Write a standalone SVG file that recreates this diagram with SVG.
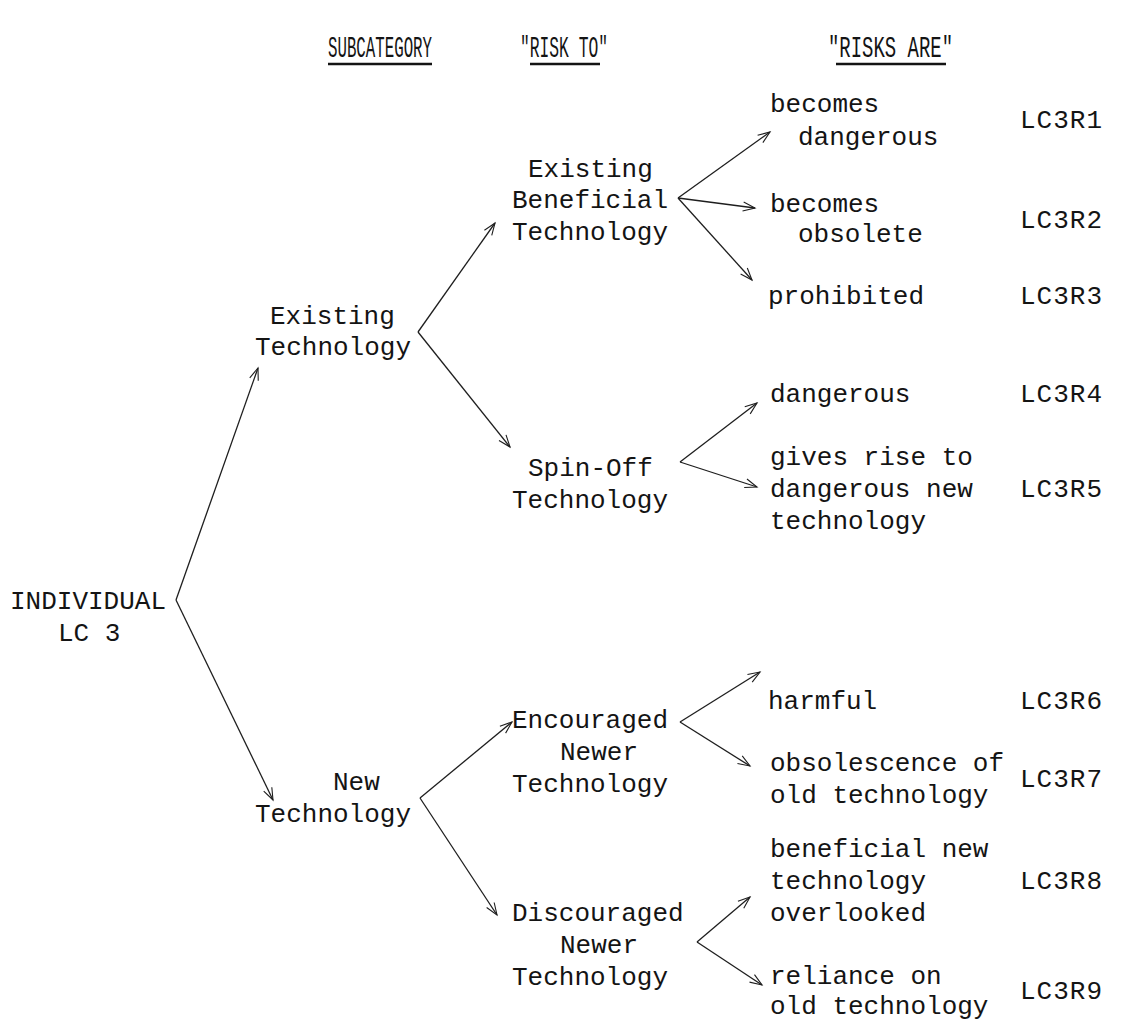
<svg xmlns="http://www.w3.org/2000/svg" width="1131" height="1027" viewBox="0 0 1131 1027">
  <style>
    .t { font-family: "Liberation Mono", "DejaVu Sans Mono", monospace; font-size: 26px; fill: #141414; }
    .h { font-family: "Liberation Mono", "DejaVu Sans Mono", monospace; font-size: 30px; fill: #141414; }
    .code { letter-spacing: 1px; }
    .ul { stroke: #141414; stroke-width: 2.5; }
    .c line { stroke: #1e1e1e; stroke-width: 1.3; fill: none; marker-end: url(#head); }
  </style>
  <defs>
    <marker id="head" markerUnits="userSpaceOnUse" markerWidth="16" markerHeight="12" viewBox="0 -6 14 12" refX="13" refY="0" orient="auto">
      <path d="M1,-4.5 L13,0 L1,4.5" fill="none" stroke="#1e1e1e" stroke-width="1.1"/>
    </marker>
  </defs>
  <rect width="1131" height="1027" fill="#ffffff"/>

  <!-- column headings -->
  <g id="headings">
    <text class="h" x="328" y="57" textLength="104" lengthAdjust="spacingAndGlyphs">SUBCATEGORY</text>
    <line class="ul" x1="328" y1="64" x2="432" y2="64"/>
    <text class="h" x="520" y="57" textLength="88" lengthAdjust="spacingAndGlyphs">"RISK TO"</text>
    <line class="ul" x1="530" y1="64" x2="600" y2="64"/>
    <text class="h" x="828" y="57" textLength="125" lengthAdjust="spacingAndGlyphs">"RISKS ARE"</text>
    <line class="ul" x1="836" y1="64" x2="946" y2="64"/>
  </g>

  <!-- connectors -->
  <g id="connectors" class="c">
    <line x1="176" y1="600" x2="258" y2="368"/>
    <line x1="176" y1="600" x2="273" y2="800"/>
    <line x1="418" y1="332" x2="495" y2="223"/>
    <line x1="418" y1="332" x2="510" y2="447"/>
    <line x1="678" y1="198" x2="770" y2="132"/>
    <line x1="678" y1="198" x2="755" y2="208"/>
    <line x1="678" y1="198" x2="752" y2="280"/>
    <line x1="680" y1="462" x2="757" y2="403"/>
    <line x1="680" y1="462" x2="757" y2="487"/>
    <line x1="420" y1="798" x2="512" y2="722"/>
    <line x1="420" y1="798" x2="497" y2="915"/>
    <line x1="680" y1="722" x2="760" y2="672"/>
    <line x1="680" y1="722" x2="750" y2="766"/>
    <line x1="697" y1="942" x2="750" y2="897"/>
    <line x1="697" y1="942" x2="762" y2="985"/>
  </g>

  <!-- root -->
  <g id="individual">
    <text class="t" x="10" y="609">INDIVIDUAL</text>
    <text class="t" x="58" y="641">LC 3</text>
  </g>

  <!-- subcategories -->
  <g id="existing-technology">
    <text class="t" x="270" y="324">Existing</text>
    <text class="t" x="255" y="355">Technology</text>
  </g>
  <g id="new-technology">
    <text class="t" x="333" y="790">New</text>
    <text class="t" x="255" y="822">Technology</text>
  </g>

  <!-- risk to -->
  <g id="existing-beneficial">
    <text class="t" x="528" y="177">Existing</text>
    <text class="t" x="512" y="208">Beneficial</text>
    <text class="t" x="512" y="240">Technology</text>
  </g>
  <g id="spin-off">
    <text class="t" x="528" y="476">Spin-Off</text>
    <text class="t" x="512" y="508">Technology</text>
  </g>
  <g id="encouraged">
    <text class="t" x="512" y="728">Encouraged</text>
    <text class="t" x="560" y="760">Newer</text>
    <text class="t" x="512" y="792">Technology</text>
  </g>
  <g id="discouraged">
    <text class="t" x="512" y="921">Discouraged</text>
    <text class="t" x="560" y="953">Newer</text>
    <text class="t" x="512" y="985">Technology</text>
  </g>

  <!-- risks are -->
  <g id="r1">
    <text class="t" x="770" y="112">becomes</text>
    <text class="t" x="798" y="145">dangerous</text>
    <text class="t code" x="1020" y="128">LC3R1</text>
  </g>
  <g id="r2">
    <text class="t" x="770" y="212">becomes</text>
    <text class="t" x="798" y="242">obsolete</text>
    <text class="t code" x="1020" y="228">LC3R2</text>
  </g>
  <g id="r3">
    <text class="t" x="768" y="304">prohibited</text>
    <text class="t code" x="1020" y="304">LC3R3</text>
  </g>
  <g id="r4">
    <text class="t" x="770" y="402">dangerous</text>
    <text class="t code" x="1020" y="402">LC3R4</text>
  </g>
  <g id="r5">
    <text class="t" x="770" y="465">gives rise to</text>
    <text class="t" x="770" y="497">dangerous new</text>
    <text class="t" x="770" y="529">technology</text>
    <text class="t code" x="1020" y="497">LC3R5</text>
  </g>
  <g id="r6">
    <text class="t" x="768" y="709">harmful</text>
    <text class="t code" x="1020" y="709">LC3R6</text>
  </g>
  <g id="r7">
    <text class="t" x="770" y="771">obsolescence of</text>
    <text class="t" x="770" y="803">old technology</text>
    <text class="t code" x="1020" y="787">LC3R7</text>
  </g>
  <g id="r8">
    <text class="t" x="770" y="857">beneficial new</text>
    <text class="t" x="770" y="889">technology</text>
    <text class="t" x="770" y="921">overlooked</text>
    <text class="t code" x="1020" y="889">LC3R8</text>
  </g>
  <g id="r9">
    <text class="t" x="770" y="984">reliance on</text>
    <text class="t" x="770" y="1014">old technology</text>
    <text class="t code" x="1020" y="999">LC3R9</text>
  </g>
</svg>
